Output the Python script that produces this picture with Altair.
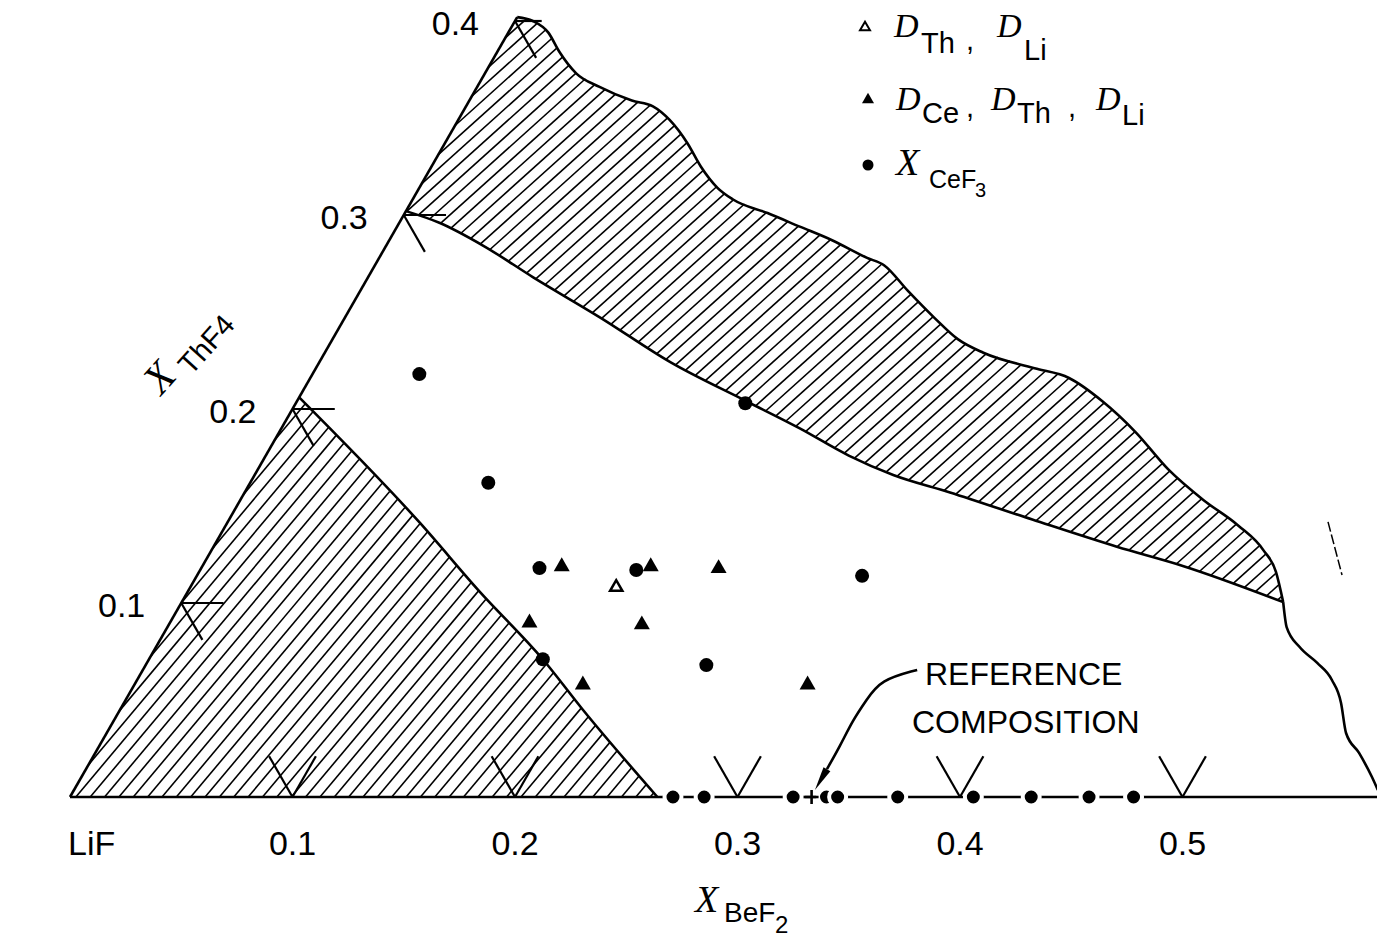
import altair as alt
import numpy as np
import pandas as pd

# ---------------- data ----------------
# compositions: b = mole fraction BeF2, t = mole fraction ThF4 (LiF = 1 - b - t)
circle_b = [0.048, 0.202, 0.107, 0.152, 0.196, 0.299, 0.177, 0.252]
circle_t = [0.218, 0.203, 0.162, 0.118, 0.117, 0.114, 0.071, 0.068]
tri_b = [0.161, 0.201, 0.232, 0.161, 0.212, 0.201, 0.302]
tri_t = [0.120, 0.120, 0.119, 0.091, 0.090, 0.059, 0.059]
open_b = [0.191]
open_t = [0.109]
edge_dots_b = [0.271, 0.285, 0.325, 0.340, 0.345, 0.372, 0.406, 0.432, 0.458, 0.478]
reference_b = [0.3333]

# upper (wavy) boundary of the upper hatched band
upper_b = [0.000, 0.008, 0.018, 0.028, 0.041, 0.055, 0.073, 0.084, 0.095, 0.109, 0.121,
           0.134, 0.144, 0.163, 0.181, 0.199, 0.219, 0.229, 0.246, 0.265, 0.281, 0.296,
           0.323, 0.341, 0.362, 0.385, 0.409, 0.433, 0.455, 0.473, 0.484, 0.495]
upper_t = [0.402, 0.400, 0.394, 0.384, 0.373, 0.366, 0.359, 0.356, 0.349, 0.337, 0.325,
           0.314, 0.308, 0.301, 0.294, 0.287, 0.278, 0.274, 0.261, 0.247, 0.236, 0.229,
           0.221, 0.216, 0.204, 0.188, 0.169, 0.153, 0.140, 0.127, 0.116, 0.1005]
# lower boundary of the upper hatched band
lower_b = [0.000, 0.018, 0.044, 0.074, 0.115, 0.158, 0.202, 0.233, 0.262, 0.287, 0.317,
           0.361, 0.406, 0.441, 0.495]
lower_t = [0.302, 0.296, 0.284, 0.268, 0.247, 0.224, 0.204, 0.190, 0.176, 0.166, 0.157,
           0.143, 0.129, 0.119, 0.1005]
# continuation down to the LiF-BeF2 edge
right_b = [0.495, 0.503, 0.514, 0.526, 0.537, 0.547, 0.557, 0.568, 0.580, 0.586]
right_t = [0.1005, 0.0876, 0.0773, 0.0691, 0.0603, 0.0485, 0.0330, 0.0227, 0.0103, 0.0036]
# boundary of the lower-left hatched region
ll_b = [0.000, 0.087, 0.131, 0.177, 0.208, 0.264]
ll_t = [0.206, 0.141, 0.106, 0.071, 0.045, 0.000]
# short stray stroke at right
stray_b = [0.4945, 0.5145]
stray_t = [0.1418, 0.1144]
# reference-composition arrow
arrow_b = [0.348, 0.334, 0.333, 0.332, 0.333, 0.333]
arrow_t = [0.0655, 0.0603, 0.050, 0.0397, 0.0258, 0.0144]
arrowhead_b = [0.333]
arrowhead_t = [0.009]
# axis ticks
base_ticks = [0.1, 0.2, 0.3, 0.4, 0.5]
base_labels = ["0.1", "0.2", "0.3", "0.4", "0.5"]
side_ticks = [0.1, 0.2, 0.3, 0.4]
side_labels = ["0.1", "0.2", "0.3", "0.4"]
edge_top_t = 0.402

# ---------------- layout ----------------
W, H = 1377, 937
X_MIN, X_MAX = -70 / 2225, (W - 70) / 2225
T_MIN, T_MAX = -(H - 797) / 1940, 797 / 1940
UX = W / (X_MAX - X_MIN)
VY = H / (T_MAX - T_MIN)
SANS = "Liberation Sans"
SERIF = "Liberation Serif"

XS = alt.Scale(domain=[X_MIN, X_MAX], nice=False, zero=False)
YS = alt.Scale(domain=[T_MIN, T_MAX], nice=False, zero=False)
xenc = alt.X("X:Q", scale=XS, axis=None)
yenc = alt.Y("t:Q", scale=YS, axis=None)


def tern(b, t):
    return [bb + tt / 2 for bb, tt in zip(b, t)]


def pts(b, t):
    return pd.DataFrame({"X": tern(b, t), "t": list(t)})


def curve_df(name, b, t):
    return pd.DataFrame({"X": tern(b, t), "t": list(t), "curve": name, "i": range(len(b))})


def hatch(b, t, ang, gap):
    u = np.array(tern(b, t)) * UX
    v = np.array(t) * VY
    P = np.stack([u, v], 1)
    r = np.radians(ang)
    d = np.array([np.cos(r), np.sin(r)])
    n = np.array([-np.sin(r), np.cos(r)])
    pn = P @ n
    rows = []
    for c in np.arange(pn.min() + gap / 2, pn.max(), gap):
        hits = []
        for k in range(len(P)):
            p, q = P[k], P[(k + 1) % len(P)]
            fp, fq = p @ n - c, q @ n - c
            if (fp < 0) != (fq < 0):
                s = fp / (fp - fq)
                hits.append(p + s * (q - p))
        hits.sort(key=lambda h: h @ d)
        for k in range(0, len(hits) - 1, 2):
            a0, a1 = hits[k], hits[k + 1]
            rows.append({"X": a0[0] / UX, "t": a0[1] / VY, "X2": a1[0] / UX, "t2": a1[1] / VY})
    return pd.DataFrame(rows)


def rules(df, width, **kw):
    return alt.Chart(df).mark_rule(color="black", strokeWidth=width, **kw).encode(
        x=xenc, y=yenc, x2=alt.X2("X2"), y2=alt.Y2("t2"))


ONE = pd.DataFrame({"a": [0]})


def label(s, px, py, size, italic=False, family=SANS, align="left", baseline="alphabetic", angle=None):
    m = dict(text=s, fontSize=size, font=family, align=align, baseline=baseline, color="black")
    if italic:
        m["fontStyle"] = "italic"
    if angle is not None:
        m["angle"] = angle
    return alt.Chart(ONE).mark_text(**m).encode(x=alt.value(px), y=alt.value(py))


def marker(px, py, **kw):
    return alt.Chart(ONE).mark_point(**kw).encode(x=alt.value(px), y=alt.value(py))


# ---------------- hatching ----------------
band_b = upper_b + lower_b[::-1][1:]
band_t = upper_t + lower_t[::-1][1:]
hatch_band = hatch(band_b, band_t, 42, 10.5)
ll_poly_b = [0.0] + ll_b
ll_poly_t = [0.0] + ll_t
hatch_ll = hatch(ll_poly_b, ll_poly_t, 50, 11)

# ---------------- frame lines ----------------
frame = pd.concat([
    curve_df("left", [0.0, 0.0], [0.0, edge_top_t]),
    curve_df("base", [0.0, X_MAX], [0.0, 0.0]),
])
curves = pd.concat([
    curve_df("upper", upper_b, upper_t),
    curve_df("lower", lower_b, lower_t),
    curve_df("right", right_b, right_t),
    curve_df("ll", ll_b, ll_t),
])

# tick stubs
L = 0.021
tick_rows = []
for v in base_ticks:
    tick_rows.append({"X": v, "t": 0.0, "X2": (v - L) + L / 2, "t2": L})
    tick_rows.append({"X": v, "t": 0.0, "X2": v + L / 2, "t2": L})
for v in side_ticks:
    hl = 0.012 if v == 0.4 else 0.019
    tick_rows.append({"X": v / 2, "t": v, "X2": hl + v / 2, "t2": v})
    tick_rows.append({"X": v / 2, "t": v, "X2": 0.019 + (v - 0.019) / 2, "t2": v - 0.019})
ticks = pd.DataFrame(tick_rows)

base_lab = pd.DataFrame({"X": base_ticks, "t": [0.0] * 5, "lab": base_labels})
side_lab = pd.DataFrame({"X": [v / 2 for v in side_ticks], "t": side_ticks, "lab": side_labels})

layers = [
    rules(hatch_band, 1.6),
    rules(hatch_ll, 1.6),
    alt.Chart(frame).mark_line(color="black", strokeWidth=2.6).encode(
        x=xenc, y=yenc, detail="curve:N", order="i:Q"),
    alt.Chart(curves).mark_line(color="black", strokeWidth=2.6, interpolate="monotone", clip=True).encode(
        x=xenc, y=yenc, detail="curve:N", order="i:Q"),
    alt.Chart(curve_df("stray", stray_b, stray_t)).mark_line(
        color="black", strokeWidth=1.5, strokeDash=[10, 3]).encode(x=xenc, y=yenc, order="i:Q"),
    alt.Chart(pts(edge_dots_b, [0.0] * len(edge_dots_b))).mark_point(
        shape="circle", filled=True, fill="black", stroke="white", strokeWidth=4, size=289, opacity=1).encode(x=xenc, y=yenc),
    rules(ticks, 2.2),
    alt.Chart(pts(reference_b, [0.0])).mark_point(
        shape="M-1,0L1,0M0,-1L0,1", filled=False, stroke="black", strokeWidth=2.6, size=196, opacity=1).encode(x=xenc, y=yenc),
    alt.Chart(pts(circle_b, circle_t)).mark_point(
        shape="circle", filled=True, color="black", size=196, opacity=1).encode(x=xenc, y=yenc),
    alt.Chart(pts(tri_b, tri_t)).mark_point(
        shape="triangle-up", filled=True, color="black", size=256, opacity=1).encode(x=xenc, y=yenc),
    alt.Chart(pts(open_b, open_t)).mark_point(
        shape="triangle-up", filled=True, fill="white", stroke="black", strokeWidth=2.5, size=150, opacity=1).encode(x=xenc, y=yenc),
    alt.Chart(curve_df("arrow", arrow_b, arrow_t)).mark_line(color="black", strokeWidth=2.6, interpolate="basis").encode(
        x=xenc, y=yenc, order="i:Q"),
    alt.Chart(pts(arrowhead_b, arrowhead_t)).mark_point(
        shape="M0,-1L0.33,1L-0.33,1Z", filled=True, color="black", size=576, angle=210, opacity=1).encode(x=xenc, y=yenc),
    alt.Chart(base_lab).mark_text(font=SANS, fontSize=34, align="center", baseline="alphabetic", dy=58, color="black").encode(
        x=xenc, y=yenc, text="lab:N"),
    alt.Chart(side_lab).mark_text(font=SANS, fontSize=34, align="right", baseline="alphabetic", dx=-36, dy=14, color="black").encode(
        x=xenc, y=yenc, text="lab:N"),
    label("LiF", 68, 855, 34),
    # axis titles
    label("X", 695, 912, 38, italic=True, family=SERIF),
    label("BeF", 724, 922, 28),
    label("2", 775, 933, 24),
    label("X", 160, 378, 42, italic=True, family=SERIF, align="center", baseline="middle", angle=312),
    label("ThF4", 207, 345, 29, align="center", baseline="middle", angle=312),
    # reference composition
    label("REFERENCE", 925, 685, 32),
    label("COMPOSITION", 912, 733, 32),
    # legend
    marker(865, 26, shape="triangle-up", filled=True, fill="white", stroke="black", strokeWidth=2, size=100, opacity=1),
    label("D", 894, 37, 34, italic=True, family=SERIF),
    label("Th", 921, 53, 29),
    label(",", 966, 50, 29),
    label("D", 997, 37, 34, italic=True, family=SERIF),
    label("Li", 1024, 60, 29),
    marker(868, 98, shape="triangle-up", filled=True, color="black", size=144, opacity=1),
    label("D", 896, 110, 34, italic=True, family=SERIF),
    label("Ce", 922, 123, 29),
    label(",", 966, 117, 29),
    label("D", 991, 110, 34, italic=True, family=SERIF),
    label("Th", 1017, 123, 29),
    label(",", 1068, 117, 29),
    label("D", 1096, 110, 34, italic=True, family=SERIF),
    label("Li", 1122, 125, 29),
    marker(868, 165, shape="circle", filled=True, color="black", size=121, opacity=1),
    label("X", 896, 175, 38, italic=True, family=SERIF),
    label("CeF", 929, 188, 25),
    label("3", 975, 197, 20),
]

chart = alt.layer(*layers).properties(
    width=W, height=H, padding=0, autosize="none", background="white"
).configure_view(stroke=None)

chart.save("out.html", embed_options={"renderer": "svg", "actions": False})
